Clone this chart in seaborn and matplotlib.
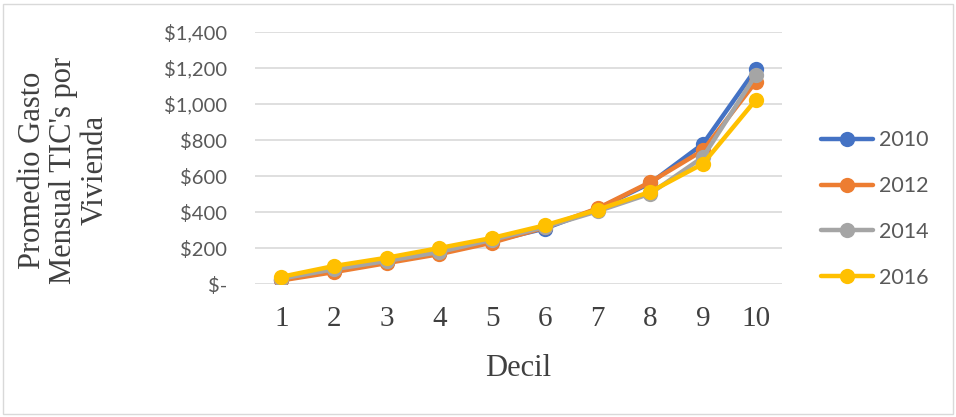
import pandas as pd
import seaborn as sns
import matplotlib.pyplot as plt
from matplotlib.ticker import FuncFormatter
from matplotlib.patches import Rectangle

deciles = [1, 2, 3, 4, 5, 6, 7, 8, 9, 10]
years = ["2010", "2012", "2014", "2016"]
gasto_2010 = [24, 72, 122, 172, 238, 308, 418, 560, 778, 1192]
gasto_2012 = [20, 66, 116, 166, 230, 314, 420, 566, 742, 1122]
gasto_2014 = [30, 82, 128, 178, 246, 316, 404, 502, 705, 1160]
gasto_2016 = [40, 100, 146, 200, 256, 326, 412, 512, 668, 1022]
colors = ["#4472C4", "#ED7D31", "#A5A5A5", "#FFC000"]

df = pd.DataFrame({
    "Decil": deciles * 4,
    "Gasto": gasto_2010 + gasto_2012 + gasto_2014 + gasto_2016,
    "Año": sum([[y] * len(deciles) for y in years], []),
})

sns.set_style("white")
fig = plt.figure(figsize=(9.56, 4.17), dpi=100)
ax = fig.add_axes([255 / 956, 1 - 284 / 417, 527 / 956, 252 / 417])

sns.lineplot(data=df, x="Decil", y="Gasto", hue="Año", hue_order=years,
             palette=colors, marker="o", markersize=11, markeredgewidth=0,
             linewidth=3.2, ax=ax, legend=True)

ax.set_xlim(0.5, 10.5)
ax.set_ylim(0, 1400)
ax.set_yticks(range(0, 1401, 200))
ax.set_xticks(deciles)
ax.yaxis.set_major_formatter(FuncFormatter(lambda v, p: "$-" if v == 0 else f"${v:,.0f}"))
ax.grid(axis="y", color="#D9D9D9", linewidth=1.2)
ax.set_axisbelow(True)
for s in ax.spines.values():
    s.set_visible(False)
ax.tick_params(length=0)
ax.tick_params(axis="y", pad=20, labelsize=14.5, labelcolor="#595959")
for lab in ax.get_yticklabels():
    lab.set_family("Lato")
ax.tick_params(axis="x", pad=16, labelsize=21, labelcolor="#404040")
for lab in ax.get_xticklabels():
    lab.set_family("Liberation Serif")

ax.set_xlabel("Decil", family="Liberation Serif", fontsize=22, color="#404040", labelpad=16)
ax.set_ylabel("")
fig.text(64 / 956, 1 - 170 / 417, "Promedio Gasto\nMensual TIC's por\nVivienda",
         rotation=90, ha="center", va="center", family="Liberation Serif",
         fontsize=22, color="#404040", linespacing=1.1, multialignment="center")

handles, labels = ax.get_legend_handles_labels()
ax.legend_.remove()
leg = fig.legend(handles, labels, loc="center left", bbox_to_anchor=(802 / 956, 1 - 209 / 417),
                 frameon=False, handlelength=2.4, labelspacing=1.2, handletextpad=0.3,
                 prop={"family": "Lato", "size": 15.5})
for t in leg.get_texts():
    t.set_color("#595959")

fig.patches.append(Rectangle((3 / 956, 3 / 417), 950 / 956, 410 / 417, transform=fig.transFigure,
                             fill=False, edgecolor="#D9D9D9", linewidth=1))

fig.savefig("out.png", dpi=100)
